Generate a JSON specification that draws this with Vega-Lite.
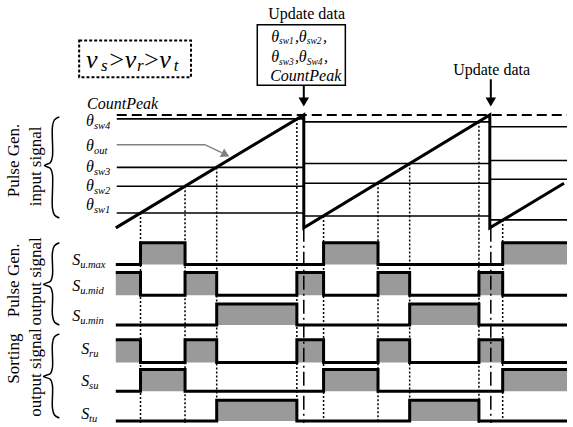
{
  "$schema": "https://vega.github.io/schema/vega-lite/v6.json",
  "width": 573,
  "height": 427,
  "autosize": {"type": "fit", "contains": "padding"},
  "padding": 0,
  "background": "white",
  "config": {"view": {"stroke": null}, "font": "Liberation Serif"},
  "datasets": {
    "thresholds": [
      {"t": 118, "t2": 307, "v": 120}, {"t": 118, "t2": 307, "v": 169}, {"t": 118, "t2": 307, "v": 188}, {"t": 118, "t2": 307, "v": 215},
      {"t": 307, "t2": 495, "v": 123}, {"t": 307, "t2": 495, "v": 165}, {"t": 307, "t2": 495, "v": 185}, {"t": 307, "t2": 495, "v": 218},
      {"t": 495, "t2": 573, "v": 128}, {"t": 495, "t2": 573, "v": 162}, {"t": 495, "t2": 573, "v": 181}, {"t": 495, "t2": 573, "v": 222}
    ],
    "peak": [{"t": 118, "t2": 573, "v": 116}],
    "ramp": [
      {"i": 0, "t": 117, "v": 230}, {"i": 1, "t": 307, "v": 116}, {"i": 2, "t": 307, "v": 230},
      {"i": 3, "t": 495, "v": 116}, {"i": 4, "t": 495, "v": 230}, {"i": 5, "t": 570, "v": 185}
    ],
    "outArrow": [{"i": 0, "t": 118, "v": 146}, {"i": 1, "t": 207, "v": 146}, {"i": 2, "t": 224, "v": 154}],
    "outHead": [{"t": 228, "v": 156}],
    "dotted": [
      {"t": 142, "v": 215, "v2": 427}, {"t": 187, "v": 188, "v2": 427}, {"t": 219, "v": 169, "v2": 427},
      {"t": 300, "v": 120, "v2": 427}, {"t": 327, "v": 218, "v2": 427}, {"t": 382, "v": 185, "v2": 427},
      {"t": 414, "v": 165, "v2": 427}, {"t": 484, "v": 123, "v2": 427}, {"t": 508, "v": 222, "v2": 427}
    ],
    "updates": [{"t": 307, "v": 230, "v2": 427}, {"t": 496, "v": 230, "v2": 427}],
    "signals": [
      {"sig": "umax", "t": 117, "v": 267, "base": 267}, {"sig": "umax", "t": 142, "v": 245, "base": 267}, {"sig": "umax", "t": 187, "v": 267, "base": 267},
      {"sig": "umax", "t": 327, "v": 245, "base": 267}, {"sig": "umax", "t": 382, "v": 267, "base": 267}, {"sig": "umax", "t": 508, "v": 245, "base": 267},
      {"sig": "umax", "t": 573, "v": 245, "base": 267},
      {"sig": "su", "t": 117, "v": 395, "base": 395}, {"sig": "su", "t": 142, "v": 373, "base": 395}, {"sig": "su", "t": 187, "v": 395, "base": 395},
      {"sig": "su", "t": 327, "v": 373, "base": 395}, {"sig": "su", "t": 382, "v": 395, "base": 395}, {"sig": "su", "t": 508, "v": 373, "base": 395},
      {"sig": "su", "t": 573, "v": 373, "base": 395},
      {"sig": "umid", "t": 117, "v": 275, "base": 298}, {"sig": "umid", "t": 142, "v": 298, "base": 298}, {"sig": "umid", "t": 187, "v": 275, "base": 298},
      {"sig": "umid", "t": 219, "v": 298, "base": 298}, {"sig": "umid", "t": 300, "v": 275, "base": 298}, {"sig": "umid", "t": 327, "v": 298, "base": 298},
      {"sig": "umid", "t": 382, "v": 275, "base": 298}, {"sig": "umid", "t": 414, "v": 298, "base": 298}, {"sig": "umid", "t": 484, "v": 275, "base": 298},
      {"sig": "umid", "t": 508, "v": 298, "base": 298}, {"sig": "umid", "t": 573, "v": 298, "base": 298},
      {"sig": "ru", "t": 117, "v": 343, "base": 366}, {"sig": "ru", "t": 142, "v": 366, "base": 366}, {"sig": "ru", "t": 187, "v": 343, "base": 366},
      {"sig": "ru", "t": 219, "v": 366, "base": 366}, {"sig": "ru", "t": 300, "v": 343, "base": 366}, {"sig": "ru", "t": 327, "v": 366, "base": 366},
      {"sig": "ru", "t": 382, "v": 343, "base": 366}, {"sig": "ru", "t": 414, "v": 366, "base": 366}, {"sig": "ru", "t": 484, "v": 343, "base": 366},
      {"sig": "ru", "t": 508, "v": 366, "base": 366}, {"sig": "ru", "t": 573, "v": 366, "base": 366},
      {"sig": "umin", "t": 117, "v": 328, "base": 328}, {"sig": "umin", "t": 219, "v": 307, "base": 328}, {"sig": "umin", "t": 300, "v": 328, "base": 328},
      {"sig": "umin", "t": 414, "v": 307, "base": 328}, {"sig": "umin", "t": 484, "v": 328, "base": 328}, {"sig": "umin", "t": 573, "v": 328, "base": 328},
      {"sig": "tu", "t": 117, "v": 425, "base": 425}, {"sig": "tu", "t": 219, "v": 404, "base": 425}, {"sig": "tu", "t": 300, "v": 425, "base": 425},
      {"sig": "tu", "t": 414, "v": 404, "base": 425}, {"sig": "tu", "t": 484, "v": 425, "base": 425}, {"sig": "tu", "t": 573, "v": 425, "base": 425}
    ],
    "solidBox": [{"t": 260, "t2": 349, "v": 25, "v2": 86}],
    "condBox": [{"t": 80, "t2": 193, "v": 41, "v2": 78}],
    "stems": [{"t": 307, "v": 86, "v2": 100}, {"t": 496, "v": 80, "v2": 100}],
    "heads": [{"t": 307, "v": 103}, {"t": 496, "v": 103}],
    "braces": [
      {"b": 1, "i": 0, "t": 60, "v": 118}, {"b": 1, "i": 1, "t": 55, "v": 121}, {"b": 1, "i": 2, "t": 53, "v": 128}, {"b": 1, "i": 3, "t": 53, "v": 158},
      {"b": 1, "i": 4, "t": 51, "v": 164}, {"b": 1, "i": 5, "t": 45, "v": 167}, {"b": 1, "i": 6, "t": 51, "v": 170}, {"b": 1, "i": 7, "t": 53, "v": 176},
      {"b": 1, "i": 8, "t": 53, "v": 210}, {"b": 1, "i": 9, "t": 55, "v": 217}, {"b": 1, "i": 10, "t": 60, "v": 220},
      {"b": 2, "i": 0, "t": 60, "v": 245}, {"b": 2, "i": 1, "t": 55, "v": 248}, {"b": 2, "i": 2, "t": 53, "v": 255}, {"b": 2, "i": 3, "t": 53, "v": 278},
      {"b": 2, "i": 4, "t": 51, "v": 284}, {"b": 2, "i": 5, "t": 44, "v": 287}, {"b": 2, "i": 6, "t": 51, "v": 290}, {"b": 2, "i": 7, "t": 53, "v": 296},
      {"b": 2, "i": 8, "t": 53, "v": 318}, {"b": 2, "i": 9, "t": 55, "v": 325}, {"b": 2, "i": 10, "t": 60, "v": 328},
      {"b": 3, "i": 0, "t": 60, "v": 337}, {"b": 3, "i": 1, "t": 55, "v": 340}, {"b": 3, "i": 2, "t": 53, "v": 347}, {"b": 3, "i": 3, "t": 53, "v": 371},
      {"b": 3, "i": 4, "t": 51, "v": 377}, {"b": 3, "i": 5, "t": 44, "v": 380}, {"b": 3, "i": 6, "t": 51, "v": 383}, {"b": 3, "i": 7, "t": 53, "v": 389},
      {"b": 3, "i": 8, "t": 53, "v": 412}, {"b": 3, "i": 9, "t": 55, "v": 419}, {"b": 3, "i": 10, "t": 60, "v": 422}
    ],
    "italic16": [
      {"s": "CountPeak", "t": 88, "v": 110},
      {"s": "θ", "t": 87, "v": 127}, {"s": "θ", "t": 87, "v": 152}, {"s": "θ", "t": 87, "v": 174}, {"s": "θ", "t": 87, "v": 193}, {"s": "θ", "t": 87, "v": 212},
      {"s": "S", "t": 73, "v": 268}, {"s": "S", "t": 73, "v": 294}, {"s": "S", "t": 73, "v": 324},
      {"s": "S", "t": 82, "v": 357}, {"s": "S", "t": 82, "v": 390}, {"s": "S", "t": 82, "v": 423},
      {"s": "θ", "t": 274, "v": 42}, {"s": ",", "t": 298, "v": 42}, {"s": "θ", "t": 302, "v": 42}, {"s": ",", "t": 326.5, "v": 42},
      {"s": "θ", "t": 274, "v": 63}, {"s": ",", "t": 298, "v": 63}, {"s": "θ", "t": 302, "v": 63}, {"s": ",", "t": 327.5, "v": 63},
      {"s": "CountPeak", "t": 273, "v": 82}
    ],
    "sub10": [
      {"s": "sw4", "t": 95, "v": 130}, {"s": "out", "t": 95, "v": 155}, {"s": "sw3", "t": 95, "v": 177}, {"s": "sw2", "t": 95, "v": 196}, {"s": "sw1", "t": 95, "v": 215},
      {"s": "u.max", "t": 81, "v": 271}, {"s": "u.mid", "t": 81, "v": 297}, {"s": "u.min", "t": 81, "v": 327},
      {"s": "ru", "t": 90, "v": 360}, {"s": "su", "t": 90, "v": 393}, {"s": "tu", "t": 90, "v": 426}
    ],
    "boxSub": [
      {"s": "sw1", "t": 282, "v": 44.5}, {"s": "sw2", "t": 310, "v": 44.5}, {"s": "sw3", "t": 282, "v": 65.5}, {"s": "Sw4", "t": 310, "v": 65.5}
    ],
    "big": [
      {"s": "v", "t": 87, "v": 69}, {"s": ">", "t": 109, "v": 69}, {"s": "v", "t": 126, "v": 69}, {"s": ">", "t": 144, "v": 69}, {"s": "v", "t": 161, "v": 69}
    ],
    "bigSub": [{"s": "s", "t": 102, "v": 72}, {"s": "r", "t": 138.5, "v": 72}, {"s": "t", "t": 175.5, "v": 72}],
    "plain16": [{"s": "Update data", "t": 271, "v": 19}, {"s": "Update data", "t": 458, "v": 76}],
    "groups": [
      {"s": "Pulse Gen.", "t": 14, "v": 162}, {"s": "input signal", "t": 36, "v": 168},
      {"s": "Pulse Gen.", "t": 14, "v": 283}, {"s": "output signal", "t": 36, "v": 284},
      {"s": "Sorting", "t": 14, "v": 362}, {"s": "output signal", "t": 36, "v": 376}
    ]
  },
  "encoding": {
    "x": {"field": "t", "type": "quantitative", "scale": {"domain": [0, 573], "nice": false, "zero": false}, "axis": null},
    "y": {"field": "v", "type": "quantitative", "scale": {"domain": [0, 427], "nice": false, "zero": false, "reverse": true}, "axis": null}
  },
  "layer": [
    {"data": {"name": "thresholds"}, "mark": {"type": "rule", "stroke": "black", "strokeWidth": 1.6}, "encoding": {"x2": {"field": "t2"}}},
    {"data": {"name": "peak"}, "mark": {"type": "rule", "stroke": "black", "strokeWidth": 2, "strokeDash": [10, 5]}, "encoding": {"x2": {"field": "t2"}}},
    {"data": {"name": "signals"}, "mark": {"type": "area", "interpolate": "step-after", "fill": "#9a9a9a", "opacity": 1}, "encoding": {"y2": {"field": "base"}, "detail": {"field": "sig"}}},
    {"data": {"name": "dotted"}, "mark": {"type": "rule", "stroke": "black", "strokeWidth": 1.5, "strokeDash": [2, 2]}, "encoding": {"y2": {"field": "v2"}}},
    {"data": {"name": "updates"}, "mark": {"type": "rule", "stroke": "black", "strokeWidth": 1.5, "strokeDash": [14, 4, 2, 4]}, "encoding": {"y2": {"field": "v2"}}},
    {"data": {"name": "signals"}, "mark": {"type": "line", "interpolate": "step-after", "stroke": "black", "strokeWidth": 3, "strokeJoin": "miter"}, "encoding": {"detail": {"field": "sig"}}},
    {"data": {"name": "ramp"}, "mark": {"type": "line", "stroke": "black", "strokeWidth": 3, "strokeJoin": "miter"}, "encoding": {"order": {"field": "i"}}},
    {"data": {"name": "outArrow"}, "mark": {"type": "line", "stroke": "#808080", "strokeWidth": 1.5}, "encoding": {"order": {"field": "i"}}},
    {"data": {"name": "outHead"}, "mark": {"type": "point", "shape": "triangle-right", "filled": true, "fill": "#808080", "size": 90, "angle": 27, "opacity": 1}, "encoding": {}},
    {"data": {"name": "solidBox"}, "mark": {"type": "rect", "fill": "white", "stroke": "black", "strokeWidth": 1.5}, "encoding": {"x2": {"field": "t2"}, "y2": {"field": "v2"}}},
    {"data": {"name": "condBox"}, "mark": {"type": "rect", "fill": "white", "stroke": "black", "strokeWidth": 2, "strokeDash": [3, 2]}, "encoding": {"x2": {"field": "t2"}, "y2": {"field": "v2"}}},
    {"data": {"name": "stems"}, "mark": {"type": "rule", "stroke": "black", "strokeWidth": 2}, "encoding": {"y2": {"field": "v2"}}},
    {"data": {"name": "heads"}, "mark": {"type": "point", "shape": "triangle-down", "filled": true, "fill": "black", "size": 110, "opacity": 1}, "encoding": {}},
    {"data": {"name": "braces"}, "mark": {"type": "line", "stroke": "black", "strokeWidth": 1.5, "interpolate": "catmull-rom"}, "encoding": {"order": {"field": "i"}, "detail": {"field": "b"}}},
    {"data": {"name": "italic16"}, "mark": {"type": "text", "font": "Liberation Serif", "fontSize": 16, "fontStyle": "italic", "align": "left", "baseline": "alphabetic", "fill": "black"}, "encoding": {"text": {"field": "s"}}},
    {"data": {"name": "sub10"}, "mark": {"type": "text", "font": "Liberation Serif", "fontSize": 10.5, "fontStyle": "italic", "align": "left", "baseline": "alphabetic", "fill": "black"}, "encoding": {"text": {"field": "s"}}},
    {"data": {"name": "boxSub"}, "mark": {"type": "text", "font": "Liberation Serif", "fontSize": 9.5, "fontStyle": "italic", "align": "left", "baseline": "alphabetic", "fill": "black"}, "encoding": {"text": {"field": "s"}}},
    {"data": {"name": "big"}, "mark": {"type": "text", "font": "Liberation Serif", "fontSize": 26, "fontStyle": "italic", "align": "left", "baseline": "alphabetic", "fill": "black"}, "encoding": {"text": {"field": "s"}}},
    {"data": {"name": "bigSub"}, "mark": {"type": "text", "font": "Liberation Serif", "fontSize": 17, "fontStyle": "italic", "align": "left", "baseline": "alphabetic", "fill": "black"}, "encoding": {"text": {"field": "s"}}},
    {"data": {"name": "plain16"}, "mark": {"type": "text", "font": "Liberation Serif", "fontSize": 16, "align": "left", "baseline": "alphabetic", "fill": "black"}, "encoding": {"text": {"field": "s"}}},
    {"data": {"name": "groups"}, "mark": {"type": "text", "font": "Liberation Serif", "fontSize": 17, "angle": 270, "align": "center", "baseline": "middle", "fill": "black"}, "encoding": {"text": {"field": "s"}}}
  ]
}
